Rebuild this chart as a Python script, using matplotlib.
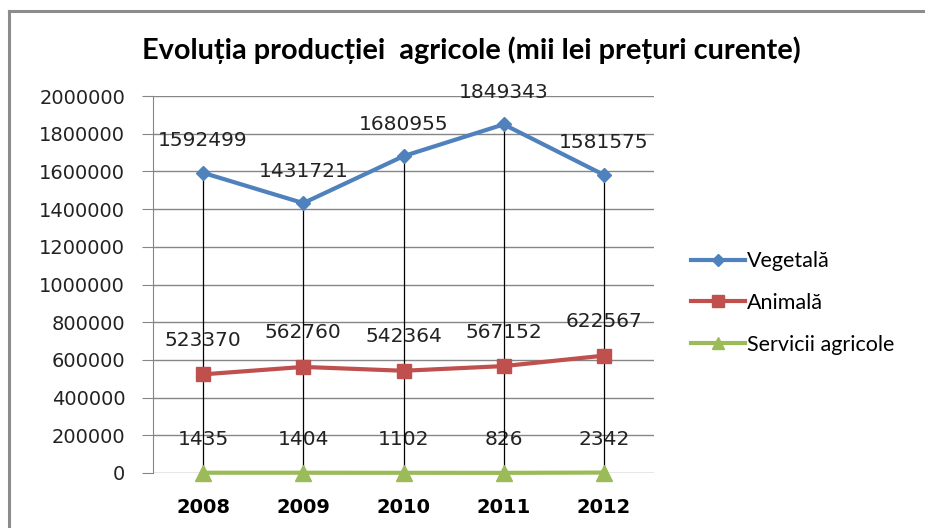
import numpy as np
import matplotlib.pyplot as plt
from matplotlib.lines import Line2D

years = ['2008', '2009', '2010', '2011', '2012']
vegetala = [1592499, 1431721, 1680955, 1849343, 1581575]
animala = [523370, 562760, 542364, 567152, 622567]
servicii = [1435, 1404, 1102, 826, 2342]
yticks = [0, 200000, 400000, 600000, 800000, 1000000, 1200000, 1400000,
          1600000, 1800000, 2000000]

plt.rcParams['font.family'] = ['DejaVu Sans']

W, H = 925, 528
fig = plt.figure(figsize=(W / 100, H / 100), dpi=100)
ax = fig.add_axes([153 / W, 1 - 473 / H, (654 - 153) / W, (473 - 96) / H])

x = np.arange(len(years))

# outer chart frame (top and left edges visible)
fig.add_artist(Line2D([9 / W, 9 / W], [0, 1 - 11 / H], color='#8c8c8c', lw=2.2,
                      transform=fig.transFigure))
fig.add_artist(Line2D([9 / W, 1], [1 - 11 / H, 1 - 11 / H], color='#8c8c8c', lw=2.2,
                      transform=fig.transFigure))

# drop lines
for i, v in enumerate(vegetala):
    ax.plot([x[i], x[i]], [0, v], color='black', lw=0.9, zorder=2)

ax.plot(x, vegetala, color='#4F81BD', lw=3, marker='D', ms=7, zorder=3,
        label='Vegetală')
ax.plot(x, animala, color='#C0504D', lw=3, marker='s', ms=10, zorder=3,
        label='Animală')
ax.plot(x, servicii, color='#9BBB59', lw=3, marker='^', ms=11, zorder=3,
        label='Servicii agricole', clip_on=False)

lab_font = dict(fontsize=14.5, color='#222222', ha='center', va='center', zorder=1)
for i in range(len(years)):
    ax.annotate(str(vegetala[i]), (x[i], vegetala[i]), xytext=(0, 32),
                textcoords='offset pixels', **lab_font)
    ax.annotate(str(animala[i]), (x[i], animala[i]), xytext=(0, 34),
                textcoords='offset pixels', **lab_font)
    ax.annotate(str(servicii[i]), (x[i], servicii[i]), xytext=(0, 33),
                textcoords='offset pixels', **lab_font)

ax.set_xlim(-0.5, len(years) - 0.5)
ax.set_ylim(0, 2000000)
ax.set_yticks(yticks)
ax.set_yticklabels([str(t) for t in yticks], fontsize=14, color='#222222')
ax.set_xticks(x)
ax.set_xticklabels(years, fontsize=14, fontweight='bold')
ax.tick_params(axis='x', length=0, pad=18)
ax.tick_params(axis='y', length=8, color='#868686', pad=12)

ax.grid(axis='y', color='#868686', lw=1)
ax.set_axisbelow(True)
for s in ['top', 'right', 'bottom']:
    ax.spines[s].set_visible(False)
ax.spines['left'].set_color('#868686')

fig.text(471 / W, 1 - 50 / H, 'Evoluția producției  agricole (mii lei prețuri curente)',
         ha='center', va='center', fontsize=20.8, fontweight='bold',
         family=['Lato', 'DejaVu Sans'])

leg = fig.legend(loc='center left', bbox_to_anchor=(672 / W, 1 - 303 / H),
                 frameon=False, handlelength=2.5, handletextpad=0.1,
                 labelspacing=1.0, markerscale=0.85,
                 prop={'family': ['Lato', 'DejaVu Sans'], 'size': 15.5})

fig.savefig('out.png', dpi=100)
